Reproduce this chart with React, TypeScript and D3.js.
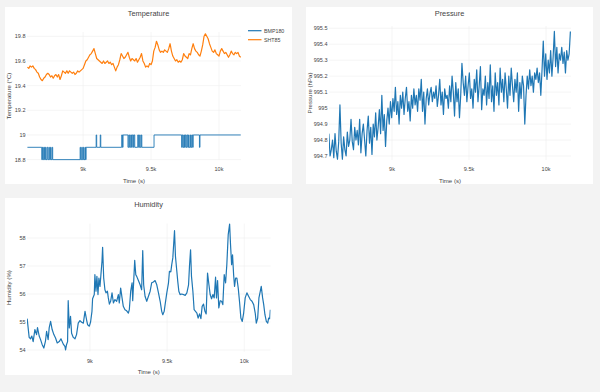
import * as d3 from "d3";

// sampling start of the regular series (s)
const T0 = 8590;
const DT_TEMP = 10;
const DT_PRES = 8;

// SHT85 temperature (°C), every 10 s from T0
const sht85 = [
  19.55, 19.54, 19.56, 19.55, 19.56, 19.54, 19.53, 19.51, 19.5, 19.47,
  19.45, 19.44, 19.46, 19.47, 19.49, 19.5, 19.49, 19.47, 19.48, 19.46,
  19.48, 19.49, 19.47, 19.49, 19.45, 19.48, 19.52, 19.51, 19.5, 19.52,
  19.5, 19.52, 19.51, 19.5, 19.51, 19.49, 19.5, 19.52, 19.51, 19.52,
  19.53, 19.54, 19.57, 19.6, 19.61, 19.63, 19.65, 19.66, 19.68, 19.7,
  19.66, 19.62, 19.61, 19.6, 19.59, 19.58, 19.6, 19.58, 19.59, 19.6,
  19.58, 19.59, 19.57, 19.58, 19.55, 19.52, 19.55, 19.57, 19.61, 19.66,
  19.64, 19.62, 19.63, 19.65, 19.67, 19.63, 19.6, 19.62, 19.61, 19.6,
  19.62, 19.59, 19.61, 19.63, 19.66, 19.6, 19.58, 19.55, 19.56, 19.55,
  19.58, 19.57, 19.6, 19.68, 19.71, 19.76, 19.73, 19.69, 19.67, 19.68,
  19.67, 19.69, 19.68, 19.67, 19.7, 19.74, 19.68, 19.64, 19.62, 19.6,
  19.61, 19.59, 19.6, 19.59, 19.61, 19.66, 19.64, 19.63, 19.62, 19.66,
  19.65, 19.7, 19.74, 19.7, 19.68, 19.67, 19.65, 19.64, 19.68, 19.73,
  19.8, 19.82, 19.8, 19.78, 19.74, 19.71, 19.68, 19.67, 19.69, 19.66,
  19.65, 19.64, 19.68, 19.7, 19.68, 19.66, 19.67, 19.65, 19.63, 19.65,
  19.68, 19.66, 19.65, 19.67, 19.66, 19.67, 19.64, 19.63,
];

// BMP180 temperature: time of each change and the value held from it
const bmpTime = [
  8590, 8696, 8700, 8704, 8710, 8716, 8722, 8726, 8734, 8740, 8748, 8752, 8760, 8764, 8772, 8776,
  8978, 8982, 8990, 8994, 9002, 9006, 9014, 9018, 9022, 9096, 9100, 9126, 9130,
  9284, 9290, 9294, 9330, 9336, 9342, 9350, 9356, 9362, 9370, 9374, 9380, 9402, 9408, 9416, 9420, 9428, 9432,
  9522, 9725, 9730, 9736, 9742, 9746, 9752, 9758, 9764, 9770, 9776, 9780, 9790, 9794, 9800, 9806, 9810,
  9856, 9860, 10160,
];
const bmpValue = [
  18.9, 18.8, 18.9, 18.8, 18.9, 18.8, 18.9, 18.8, 18.9, 18.8, 18.9, 18.8, 18.9, 18.8, 18.9, 18.8,
  18.9, 18.8, 18.9, 18.8, 18.9, 18.8, 18.9, 18.8, 18.9, 19.0, 18.9, 19.0, 18.9,
  19.0, 18.9, 19.0, 18.9, 19.0, 18.9, 19.0, 18.9, 19.0, 18.9, 19.0, 18.9, 19.0, 18.9, 19.0, 18.9, 19.0, 18.9,
  19.0, 18.9, 19.0, 18.9, 19.0, 18.9, 19.0, 18.9, 19.0, 18.9, 19.0, 18.9, 19.0, 18.9, 19.0, 18.9, 19.0,
  18.9, 19.0, 19.0,
];

// pressure (hPa), every 8 s from T0
const pressure = [
  994.84, 994.7, 994.74, 994.8, 994.69, 994.84, 994.73, 994.68, 994.79, 995.02,
  994.78, 994.68, 994.82, 994.74, 994.7, 994.85, 994.76, 994.8, 994.93, 994.79,
  994.74, 994.88, 994.8, 994.86, 994.77, 994.93, 994.72, 994.84, 994.9, 994.8,
  994.7, 994.86, 994.95, 994.78, 994.88, 994.71, 994.9, 994.82, 994.97, 994.8,
  994.88, 994.99, 994.84, 995.08, 994.86, 994.96, 994.76, 994.92, 995.0, 994.9,
  995.04, 994.94, 995.06, 994.98, 995.13, 994.96, 995.04, 994.9, 995.08, 995.0,
  995.1, 994.96, 995.06, 995.13, 994.98, 995.04, 994.92, 995.08, 995.0, 995.12,
  995.02, 995.08, 994.98, 995.12, 995.05, 995.18, 994.98, 995.1, 994.9, 995.06,
  995.12, 995.02, 995.09, 995.13, 995.04, 995.1, 995.06, 995.14, 995.01, 995.08,
  995.18, 995.02, 995.1, 994.96, 995.12, 995.06, 995.08, 995.0, 995.14, 995.04,
  995.2, 995.1, 994.95, 995.16, 995.04, 995.12, 994.94, 995.08, 995.28, 995.16,
  995.08, 995.2, 995.04, 995.14, 995.22, 995.06, 995.12, 995.0, 995.18, 995.1,
  995.24, 995.04, 995.14, 995.26, 994.99, 995.12, 995.08, 995.2, 995.02, 995.16,
  995.06, 995.27, 995.04, 995.14, 994.98, 995.22, 995.08, 995.16, 995.02, 995.25,
  995.1, 995.18, 995.04, 995.22, 995.12, 995.0, 995.2, 995.08, 995.25, 995.14,
  995.04, 995.18, 995.1, 995.22, 994.98, 995.16, 995.06, 995.2, 995.14, 994.9,
  995.08, 995.2, 995.12, 995.24, 995.14, 995.2, 995.1, 995.22, 995.18, 995.25,
  995.16, 995.22, 995.08, 995.24, 995.42, 995.2, 995.34, 995.18, 995.3, 995.22,
  995.36, 995.2, 995.32, 995.48, 995.26, 995.38, 995.22, 995.34, 995.3, 995.38,
  995.28, 995.35, 995.22, 995.36, 995.3, 995.34, 995.48,
];

// humidity (%), read at irregular times
const humTime = [
  8593, 8606, 8615, 8623, 8632, 8643, 8654, 8660, 8671, 8680, 8690, 8701, 8712, 8719, 8729, 8736,
  8745, 8755, 8766, 8777, 8788, 8801, 8812, 8827, 8838, 8842, 8848, 8855, 8859, 8866, 8874, 8881,
  8892, 8903, 8913, 8924, 8935, 8946, 8957, 8968, 8978, 8985, 8996, 9004, 9013, 9017, 9028, 9032,
  9039, 9045, 9052, 9058, 9065, 9071, 9078, 9082, 9089, 9097, 9104, 9113, 9119, 9126, 9134, 9143,
  9152, 9162, 9173, 9184, 9190, 9199, 9208, 9216, 9227, 9238, 9249, 9255, 9264, 9273, 9277, 9284,
  9290, 9297, 9303, 9314, 9325, 9335, 9342, 9348, 9357, 9368, 9379, 9390, 9400, 9411, 9422, 9433,
  9444, 9455, 9465, 9472, 9481, 9487, 9498, 9509, 9515, 9524, 9530, 9537, 9543, 9548, 9554, 9563,
  9569, 9576, 9584, 9595, 9606, 9617, 9628, 9639, 9645, 9652, 9658, 9667, 9675, 9684, 9693, 9701,
  9710, 9719, 9727, 9736, 9745, 9753, 9762, 9771, 9779, 9788, 9797, 9805, 9814, 9820, 9827, 9835,
  9844, 9853, 9861, 9870, 9879, 9887, 9896, 9905, 9911, 9918, 9924, 9931, 9937, 9944, 9952, 9961,
  9970, 9978, 9987, 9996, 10006, 10017, 10028, 10039, 10050, 10061, 10071, 10078, 10087, 10095, 10104, 10110,
  10119, 10126, 10134, 10143, 10152, 10158, 10165, 10169,
];
const humValue = [
  55.12, 54.45, 54.4, 54.5, 54.3, 54.73, 54.55, 54.8, 54.5, 54.37, 54.2, 54.07, 54.33, 54.67, 54.37, 54.8,
  55.02, 54.73, 54.55, 54.43, 54.25, 54.3, 54.4, 54.21, 54.13, 54.0, 54.19, 54.3, 55.76, 54.79, 55.2, 54.6,
  54.45, 54.4, 54.55, 54.96, 55.05, 54.99, 54.96, 55.38, 55.08, 54.9, 54.85, 55.0, 55.38, 55.83, 55.98, 56.69,
  56.1, 56.63, 55.98, 56.57, 56.27, 56.69, 57.17, 57.67, 56.57, 56.15, 56.04, 56.1, 55.86, 55.64, 55.74, 56.04,
  55.68, 55.8, 55.74, 55.98, 55.68, 56.21, 55.86, 55.56, 55.44, 55.4, 55.32, 55.44, 56.1, 56.4, 55.76, 56.51,
  57.2, 56.69, 56.63, 56.48, 56.33, 56.15, 57.55, 56.33, 55.92, 55.74, 55.92, 56.1, 56.4, 56.43, 56.48, 56.33,
  56.04, 55.74, 55.38, 55.26, 55.38, 55.62, 56.04, 56.4, 56.81, 56.79, 57.05, 57.29, 57.82, 58.26, 57.35, 56.81,
  56.45, 56.1, 55.98, 56.0, 55.98, 55.95, 56.04, 56.33, 56.99, 57.58, 56.63, 56.1, 55.44, 55.38, 55.32, 55.14,
  55.29, 55.12, 55.56, 55.64, 55.38, 55.29, 56.75, 56.33, 55.98, 55.83, 55.98, 55.86, 56.6, 55.86, 56.48, 55.5,
  55.76, 55.74, 55.62, 56.69, 56.4, 57.05, 58.12, 58.5, 57.76, 57.05, 57.4, 56.69, 56.27, 56.57, 56.57, 56.21,
  55.68, 55.14, 55.02, 55.32, 55.86, 56.04, 55.92, 55.8, 55.74, 55.62, 55.32, 54.96, 55.14, 55.86, 56.1, 56.27,
  55.86, 55.62, 55.26, 55.02, 54.96, 55.14, 55.12, 55.44,
];

const X_TICKS = [9000, 9500, 10000];
const TEMP_TICKS = [18.8, 19, 19.2, 19.4, 19.6, 19.8];
const PRES_TICKS = [994.7, 994.8, 994.9, 995, 995.1, 995.2, 995.3, 995.4, 995.5];
const HUM_TICKS = [54, 55, 56, 57, 58];

const BLUE = "#1f77b4";
const ORANGE = "#ff7f0e";
const INK = "#444";
const GRID = "#eeeeee";
const FONT = '"Liberation Sans", Arial, sans-serif';

type Series = { name: string; xs: number[]; ys: number[]; color: string; step?: boolean; width?: number };
type Box = { l: number; r: number; t: number; b: number };

const regular = (t0: number, dt: number, n: number) => d3.range(n).map((i) => t0 + i * dt);

function Panel({
  id,
  card,
  plot,
  title,
  xDomain,
  yDomain,
  yTicks,
  yLabel,
  series,
  legend,
}: {
  id: string;
  card: Box;
  plot: Box;
  title: string;
  xDomain: [number, number];
  yDomain: [number, number];
  yTicks: number[];
  yLabel: string;
  series: Series[];
  legend?: boolean;
}) {
  const x = d3.scaleLinear().domain(xDomain).range([plot.l, plot.r]);
  const y = d3.scaleLinear().domain(yDomain).range([plot.b, plot.t]);
  const fmtX = d3.format("~s");
  const fmtY = d3.format("~f");
  const midX = (plot.l + plot.r) / 2;
  const midY = (plot.t + plot.b) / 2;

  return (
    <g fontFamily={FONT}>
      <rect x={card.l} y={card.t} width={card.r - card.l} height={card.b - card.t} fill="#fff" />
      <clipPath id={`clip-${id}`}>
        <rect x={plot.l} y={plot.t - 1} width={plot.r - plot.l} height={plot.b - plot.t + 2} />
      </clipPath>

      {/* grid */}
      {X_TICKS.map((t) => (
        <line key={`gx${t}`} x1={x(t)} x2={x(t)} y1={plot.t} y2={plot.b} stroke={GRID} strokeWidth={0.6} />
      ))}
      {yTicks.map((v) => (
        <line key={`gy${v}`} x1={plot.l} x2={plot.r} y1={y(v)} y2={y(v)} stroke={GRID} strokeWidth={0.6} />
      ))}

      {/* traces */}
      <g clipPath={`url(#clip-${id})`}>
        {series.map((s) => {
          const line = d3
            .line<number>()
            .x((_, i) => x(s.xs[i]))
            .y((v) => y(v))
            .curve(s.step ? d3.curveStepAfter : d3.curveLinear);
          return (
            <path key={s.name} d={line(s.ys) ?? ""} fill="none" stroke={s.color} strokeWidth={s.width ?? 1.2} strokeLinejoin="round" />
          );
        })}
      </g>

      {/* tick labels */}
      {X_TICKS.map((t) => (
        <text key={`tx${t}`} x={x(t)} y={plot.b + 11} textAnchor="middle" fontSize={5.5} fill={INK}>
          {fmtX(t)}
        </text>
      ))}
      {yTicks.map((v) => (
        <text key={`ty${v}`} x={plot.l - 1.5} y={y(v)} dy="0.35em" textAnchor="end" fontSize={5.5} fill={INK}>
          {fmtY(v)}
        </text>
      ))}

      {/* titles */}
      <text x={(card.l + card.r) / 2} y={card.t + 9.3} textAnchor="middle" fontSize={7.4} fill={INK}>
        {title}
      </text>
      <text x={midX} y={plot.b + 22.6} textAnchor="middle" fontSize={6.1} fill={INK}>
        Time (s)
      </text>
      <text transform={`translate(${card.l + 6},${midY}) rotate(-90)`} textAnchor="middle" fontSize={6.1} fill={INK}>
        {yLabel}
      </text>

      {legend &&
        series.map((s, i) => (
          <g key={`lg${s.name}`} transform={`translate(${plot.r + 7},${plot.t - 1.3 + i * 9})`}>
            <line x1={0} x2={13.5} y1={0} y2={0} stroke={s.color} strokeWidth={1.2} />
            <text x={16} y={0} dy="0.35em" fontSize={5.3} fill={INK}>
              {s.name}
            </text>
          </g>
        ))}
    </g>
  );
}

export default function App() {
  const tempSeries: Series[] = [
    { name: "BMP180", xs: bmpTime, ys: bmpValue, color: BLUE, step: true, width: 0.9 },
    { name: "SHT85", xs: regular(T0, DT_TEMP, sht85.length), ys: sht85, color: ORANGE },
  ];
  const presSeries: Series[] = [
    { name: "pressure", xs: regular(T0, DT_PRES, pressure.length), ys: pressure, color: BLUE },
  ];
  const humSeries: Series[] = [{ name: "humidity", xs: humTime, ys: humValue, color: BLUE }];

  return (
    <svg width={600} height={392} style={{ position: "absolute", left: 0, top: 0, display: "block" }}>
      <rect width={600} height={392} fill="#f3f3f3" />
      <Panel
        id="temp"
        card={{ l: 5, r: 292, t: 7, b: 184 }}
        plot={{ l: 27, r: 241, t: 32, b: 160 }}
        title="Temperature"
        xDomain={[8587, 10162]}
        yDomain={[18.797, 19.835]}
        yTicks={TEMP_TICKS}
        yLabel="Temperature (°C)"
        series={tempSeries}
        legend
      />
      <Panel
        id="pres"
        card={{ l: 306, r: 593, t: 7, b: 184 }}
        plot={{ l: 329, r: 571, t: 26, b: 160 }}
        title="Pressure"
        xDomain={[8591, 10162]}
        yDomain={[994.675, 995.514]}
        yTicks={PRES_TICKS}
        yLabel="Pressure (hPa)"
        series={presSeries}
      />
      <Panel
        id="hum"
        card={{ l: 5, r: 292, t: 198, b: 375 }}
        plot={{ l: 27, r: 270.5, t: 223.6, b: 351.6 }}
        title="Humidity"
        xDomain={[8592, 10170]}
        yDomain={[53.943, 58.514]}
        yTicks={HUM_TICKS}
        yLabel="Humidity (%)"
        series={humSeries}
      />
    </svg>
  );
}
